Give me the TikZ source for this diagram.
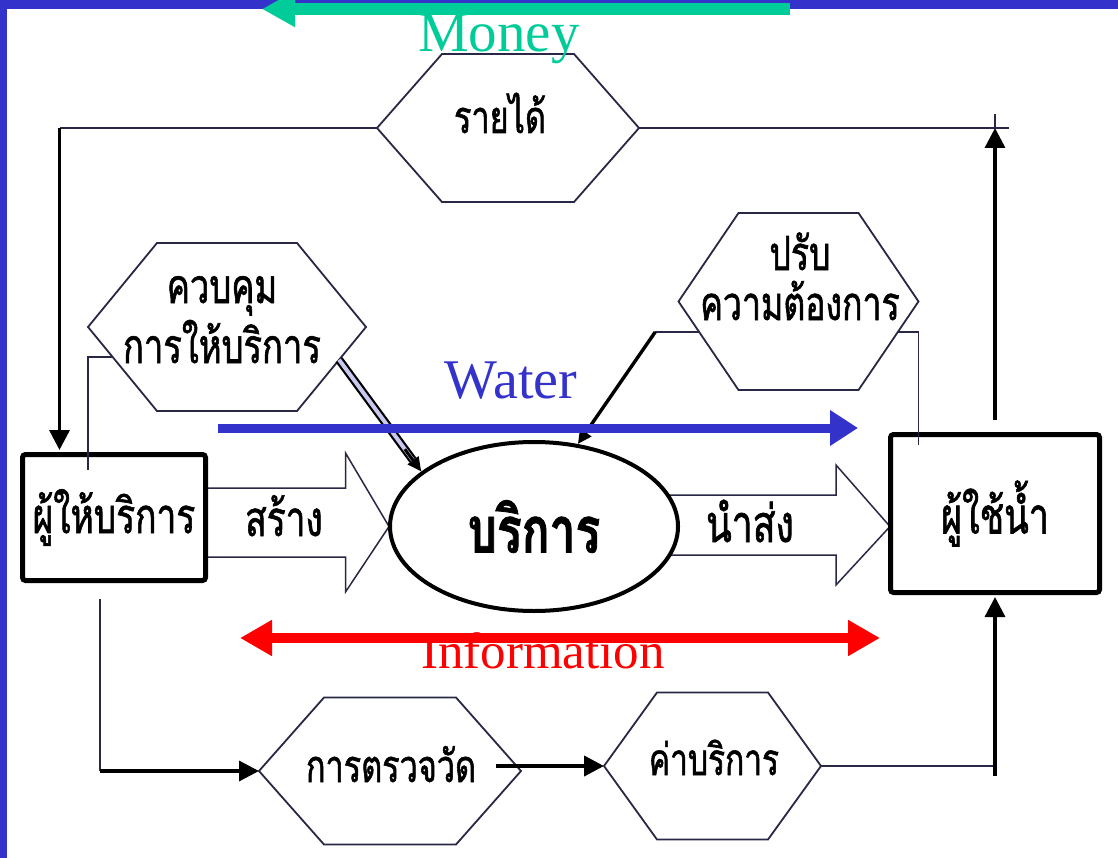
\documentclass[tikz,border=0pt]{standalone}
\usepackage{fontspec}
\setmainfont{Liberation Serif}
\newfontfamily\thaifont[Script=Thai,FakeStretch=0.72,FakeBold=1.2]{Loma}
\usetikzlibrary{calc,arrows.meta,shapes.geometric}

\definecolor{frameblue}{RGB}{51,51,204}
\definecolor{moneygreen}{RGB}{0,204,153}
\definecolor{infored}{RGB}{255,0,0}
\definecolor{ink}{RGB}{40,40,70}
\definecolor{lav}{RGB}{200,200,240}

% hexagon with pointed left/right ends: name, cx, cy, half width, half top edge, half height
\newcommand\hexbox[6]{%
  \coordinate (#1) at (#2,#3);
  \coordinate (#1-w)  at ($(#1)+(-#4,0)$);
  \coordinate (#1-e)  at ($(#1)+(#4,0)$);
  \coordinate (#1-nw) at ($(#1)+(-#5,-#6)$);
  \coordinate (#1-ne) at ($(#1)+(#5,-#6)$);
  \coordinate (#1-sw) at ($(#1)+(-#5,#6)$);
  \coordinate (#1-se) at ($(#1)+(#5,#6)$);
  \filldraw[hexline] (#1-w) -- (#1-nw) -- (#1-ne) -- (#1-e) -- (#1-se) -- (#1-sw) -- cycle;
}

\tikzset{
  hexline/.style={draw=ink, fill=white, line width=1.8pt},
  thinline/.style={draw=ink, line width=1.8pt},
  heavyline/.style={draw=black, line width=3.4pt},
  headarrow/.style={-{Triangle[length=20pt,width=20pt]}},
  smallhead/.style={-{Triangle[length=14pt,width=13pt]}},
  blockarr/.style={draw=ink, line width=1.5pt, fill=white, line join=miter},
  actor/.style={draw=black, line width=5pt, fill=white, rounded corners=3pt, inner sep=0pt},
  thlabel/.style={inner sep=0pt, anchor=base, align=center},
  flowtext/.style={inner sep=0pt, anchor=base},
}

\begin{document}
\begin{tikzpicture}[x=1pt, y=-1pt]
\useasboundingbox (0,0) rectangle (1118,858);
% frame
\fill[white] (0,0) rectangle (1118,858);
\fill[frameblue] (0,0) rectangle (1118,9);
\fill[frameblue] (0,0) rectangle (7,858);

% service ellipse and the two actors
\coordinate (svc-c) at (534,526.5);
\coordinate (prov-c) at (114,517.5);
\coordinate (usr-c) at (995,513.5);

% block arrows (drawn first so the shapes cover their ends)
\draw[blockarr] ($(prov-c)+(80,-29.5)$) -- ++(151.5,0) -- ++(0,-35) -- ($(svc-c)+(-145,0)$)
  -- ($(prov-c)+(231.5,74.5)$) -- ++(0,-35) -- ($(prov-c)+(80,39.5)$);
\draw[blockarr] ($(svc-c)+(120,-31.5)$) -- ++(182,0) -- ++(0,-30) -- ($(svc-c)+(356,0)$)
  -- ($(svc-c)+(302,58.5)$) -- ++(0,-30) -- ($(svc-c)+(120,28.5)$);

\node[draw=black, line width=4pt, fill=white, ellipse, minimum width=288pt, minimum height=169pt, inner sep=0pt,
  font={\fontsize{64}{70}\selectfont\thaifont\bfseries}] (svc) at (svc-c) {บริการ};
\node[actor, minimum width=183pt, minimum height=126pt,
  font={\fontsize{49}{54}\selectfont\thaifont}] (prov) at (prov-c) {ผู้ให้บริการ};
\node[actor, minimum width=209pt, minimum height=158pt,
  font={\fontsize{50}{54}\selectfont\thaifont}] (usr) at (usr-c) {ผู้ใช้น้ำ};

\node[flowtext, font={\fontsize{49}{54}\selectfont\thaifont}] (build) at (284,536) {สร้าง};
\node[flowtext, font={\fontsize{52}{56}\selectfont\thaifont}] (deliver) at (750,542) {นำส่ง};

% hexagons
\hexbox{rev}{508}{128}{131}{66}{74}
\hexbox{ctl}{227}{327}{139}{70}{84}
\hexbox{adj}{798.5}{301.5}{120}{60}{88.5}
\hexbox{meas}{390}{771}{131}{66}{73.5}
\hexbox{fee}{712.5}{766}{108.5}{55.5}{73.5}

\node[thlabel, font={\fontsize{45}{50}\selectfont\thaifont}] (rev-t) at (500,133) {รายได้};
\node[thlabel, font={\fontsize{48}{60}\selectfont\thaifont}] (ctl-t) at (222,363) {ควบคุม\\การให้บริการ};
\node[thlabel, font={\fontsize{47}{50}\selectfont\thaifont}] (adj-t) at (800,320) {ปรับ\\ความต้องการ};
\node[thlabel, font={\fontsize{45}{50}\selectfont\thaifont}] (meas-t) at (391,782) {การตรวจวัด};
\node[thlabel, font={\fontsize{44}{50}\selectfont\thaifont}] (fee-t) at (714,775) {ค่าบริการ};

% income loop across the top
\coordinate (provtop) at ($(prov.north west)+(39.5,0)$);
\draw[thinline] (rev-w) -- (rev-w -| provtop);
\draw[heavyline, headarrow, shorten >=2pt] (rev-w -| provtop) -- (provtop);
\coordinate (revend) at ($(rev-e -| usr.north)+(14,0)$);
\draw[thinline] (rev-e) -- (revend);
\draw[heavyline, headarrow, shorten <=12pt] (usr.north) -- (rev-e -| usr.north);
\draw[line width=2pt, draw=ink] (rev-e -| usr.north) -- ++(0,-14);

% control of provision
\coordinate (ctl-a) at ($(ctl-w)!0.357!(ctl-sw)$);
\draw[thinline] (ctl-a) -- (ctl-a -| ctl-w) -- ($(ctl-w |- prov.north)+(0,18)$);
\coordinate (ctl-b) at ($(ctl-e)!0.39!(ctl-se)$);
\draw[draw=black, line width=2.2pt, double=lav, double distance=4pt, shorten >=14pt] (ctl-b) -- (svc.154);
\draw[heavyline, line width=3pt, smallhead] ($(ctl-b)!0.8!(svc.154)$) -- (svc.154);

% demand adjustment
\coordinate (adj-a) at ($(adj-w)!0.345!(adj-sw)$);
\coordinate (adj-k) at ($(adj-a)+(-44,0)$);
\draw[thinline] (adj-a) -- (adj-k);
\draw[heavyline, smallhead] (adj-k) -- (svc.62);
\coordinate (adj-b) at ($(adj-e)!0.345!(adj-se)$);
\draw[thinline] (adj-b) -- (adj-b -| adj-e) -- ($(adj-e |- usr.north)+(0,13)$);

% metering and charges
\coordinate (provout) at ($(prov.south)+(-14,16)$);
\draw[thinline] (provout) -- (provout |- meas-w);
\draw[heavyline, headarrow] (provout |- meas-w) -- (meas-w);
\draw[heavyline, line width=4pt, headarrow] ($(fee-w)+(-108,0)$) -- (fee-w);
\draw[thinline] (fee-e) -- (fee-e -| usr.south);
\draw[heavyline, headarrow, shorten >=2pt] ($(fee-e -| usr.south)+(0,10)$) -- (usr.south);

% flows of money, water and information
\coordinate (money-a) at (790,9);
\coordinate (money-b) at (262,9);
\draw[moneygreen, line width=12pt, -{Triangle[length=33pt,width=34pt]}] (money-a) -- (money-b);
\node[flowtext, text=moneygreen, font={\fontsize{57}{60}\selectfont}] (money) at (499,52) {Money};

\coordinate (water-a) at (218,428);
\coordinate (water-b) at (858,428);
\draw[frameblue, line width=9pt, -{Triangle[length=28pt,width=34pt]}] (water-a) -- (water-b);
\node[flowtext, text=frameblue, font={\fontsize{56}{60}\selectfont}] (water) at (511,398) {Water};

\coordinate (info-a) at (240,638);
\coordinate (info-b) at (880,638);
\draw[infored, line width=10pt, {Triangle[length=32pt,width=34pt]}-{Triangle[length=32pt,width=34pt]}] (info-a) -- (info-b);
\node[flowtext, text=infored, font={\fontsize{51}{54}\selectfont}] (info) at (543,668) {Information};
\end{tikzpicture}
\end{document}
